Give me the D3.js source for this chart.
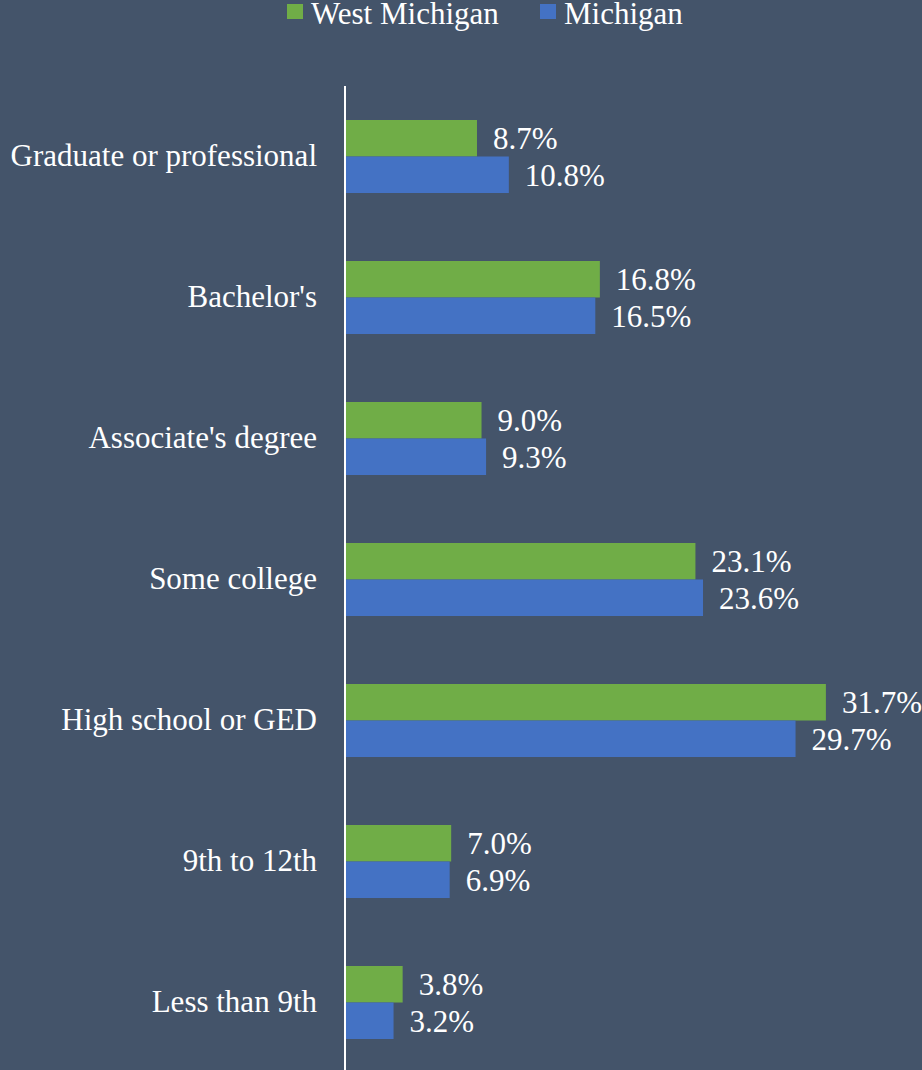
<!DOCTYPE html>
<html>
<head>
<meta charset="utf-8">
<script src="https://cdn.jsdelivr.net/npm/d3@7/dist/d3.min.js"></script>
<style>
  html, body { margin: 0; padding: 0; background: #44546A; }
</style>
</head>
<body>
<div id="chart"></div>
<script>
  const categories = ['Graduate or professional', "Bachelor's", "Associate's degree",
                      'Some college', 'High school or GED', '9th to 12th', 'Less than 9th']
  const seriesNames = ['West Michigan', 'Michigan']
  const westMichigan = [8.7, 16.8, 9.0, 23.1, 31.7, 7.0, 3.8]
  const michigan     = [10.8, 16.5, 9.3, 23.6, 29.7, 6.9, 3.2]
  const colors = ['#70AD47', '#4472C4']

  const width = 922, height = 1070
  const font = '"Liberation Serif", "Times New Roman", Lato, serif'
  const fontSize = 31

  let svg = d3.select('#chart')
              .append('svg')
              .attr('width', width)
              .attr('height', height)
              .style('font-family', font)

  svg.append('rect')
    .attr('width', width)
    .attr('height', height)
    .attr('fill', '#44546A')

  let x = d3.scaleLinear().domain([0, 35]).range([345, 345 + 35 * 15.17])

  let y = d3.scaleBand()
            .domain(categories)
            .range([86, 1073])
            .paddingInner(68 / 141)
            .paddingOuter(34 / 141)

  let ySub = d3.scaleBand()
               .domain(seriesNames)
               .range([0, y.bandwidth()])

  let rows = categories.map(function(c, i) {
    return { cat: c, values: [westMichigan[i], michigan[i]] } })

  let groups = svg.append('g').selectAll('g')
    .data(rows)
    .enter()
    .append('g')
      .attr('transform', function(d) { return 'translate(0,' + y(d.cat) + ')' })

  groups.selectAll('rect')
    .data(function(d) { return d.values.map(function(v, k) { return { v: v, s: seriesNames[k], k: k } }) })
    .enter()
    .append('rect')
      .attr('x', x(0))
      .attr('y', function(d) { return ySub(d.s) })
      .attr('width', function(d) { return x(d.v) - x(0) })
      .attr('height', ySub.bandwidth())
      .attr('fill', function(d) { return colors[d.k] })

  groups.selectAll('text.val')
    .data(function(d) { return d.values.map(function(v, k) { return { v: v, s: seriesNames[k] } }) })
    .enter()
    .append('text')
      .attr('class', 'val')
      .attr('x', function(d) { return x(d.v) + 16 })
      .attr('y', function(d) { return ySub(d.s) + ySub.bandwidth() / 2 + 11 })
      .attr('fill', '#fff')
      .attr('font-size', fontSize)
      .text(function(d) { return d.v.toFixed(1) + '%' })

  // category labels
  let yAxis = d3.axisLeft(y).tickSize(0).tickPadding(28)
  let ax = svg.append('g')
    .attr('transform', 'translate(' + x(0) + ',0)')
    .call(yAxis)
    .attr('font-family', null)
  ax.select('.domain').remove()
  ax.selectAll('text')
    .attr('fill', '#fff')
    .attr('font-size', fontSize)
    .attr('dy', '0.32em')

  svg.append('line')
    .attr('x1', x(0)).attr('x2', x(0))
    .attr('y1', 86).attr('y2', height)
    .attr('stroke', '#fff')
    .attr('stroke-width', 2)

  // legend
  let legendX = [287, 540]
  let legend = svg.append('g').selectAll('g')
    .data(seriesNames)
    .enter()
    .append('g')
      .attr('transform', function(d, i) { return 'translate(' + legendX[i] + ',0)' })
  legend.append('rect')
    .attr('x', 0).attr('y', 4)
    .attr('width', 16).attr('height', 15)
    .attr('fill', function(d, i) { return colors[i] })
  legend.append('text')
    .attr('x', 24).attr('y', 24)
    .attr('fill', '#fff')
    .attr('font-size', fontSize)
    .text(function(d) { return d })
</script>
</body>
</html>
